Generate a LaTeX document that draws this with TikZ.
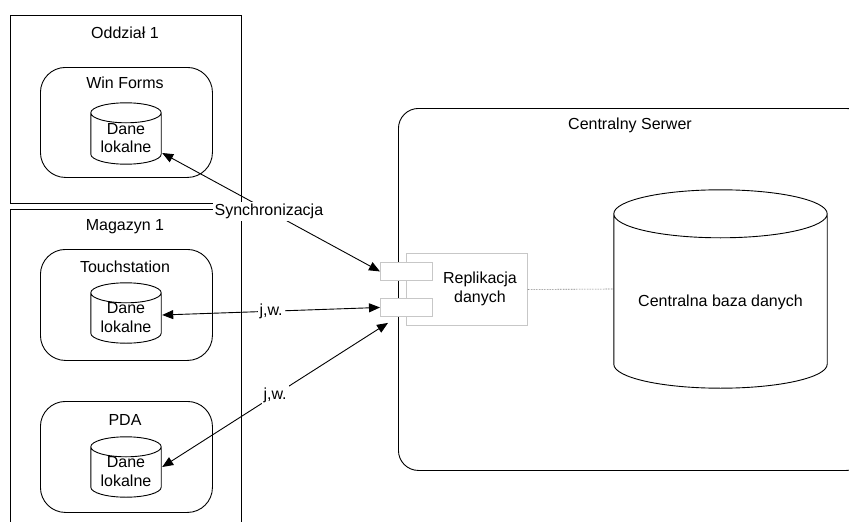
\documentclass[tikz,border=0pt]{standalone}
\usepackage{fontspec}
\setmainfont{Liberation Sans}
\usetikzlibrary{arrows.meta,calc}

% outline of a database cylinder filling the rectangle of node #1, ellipse half-height #2
\newcommand\dbshape[2]{%
  \draw[dbline] let \p1=(#1.north west), \p2=(#1.south east), \n1={(\x2-\x1)/2} in
    (\x1,\y1-#2pt) -- (\x1,\y2+#2pt)
    arc[start angle=180, end angle=360, x radius=\n1, y radius=#2pt]
    -- (\x2,\y1-#2pt)
    arc[start angle=0, end angle=180, x radius=\n1, y radius=#2pt]
    arc[start angle=180, end angle=360, x radius=\n1, y radius=#2pt];%
}

\begin{document}
\begin{tikzpicture}[x=1pt,y=1pt,
  every node/.style={font=\fontsize{16}{18.4}\selectfont, inner sep=0pt},
  frame/.style={draw, line width=0.9pt, anchor=north west},
  device/.style={draw, line width=0.9pt, rounded corners=25pt, anchor=north west},
  server/.style={draw, line width=0.9pt, rounded corners=20pt, anchor=north west},
  dbline/.style={line width=0.9pt},
  dbbox/.style={draw=none},
  txt/.style={align=center},
  component/.style={draw=black!22, line width=0.9pt, fill=white, anchor=north west},
  port/.style={draw=black!22, line width=0.9pt, fill=white, anchor=north west,
    minimum width=52pt, minimum height=18pt},
  conn/.style={{Triangle[length=11pt,width=9pt]}-{Triangle[length=11pt,width=9pt]}, line width=0.9pt},
  conlabel/.style={fill=white, inner sep=2pt},
  link/.style={draw=black!75, line width=0.6pt, densely dotted}
]
\useasboundingbox (0,0) rectangle (849,-522);
\clip (0,0) rectangle (849,-522);

% branch office
\node[frame, minimum width=231pt, minimum height=188pt] (oddzial) at (10,-15) {};
\node[txt] (oddzialtxt) at (125,-33) {Oddział 1};
\node[device, minimum width=172pt, minimum height=110pt] (winforms) at (40,-67) {};
\node[txt] (winformstxt) at (125,-83) {Win Forms};
\node[dbbox, minimum width=70pt, minimum height=61pt] (wfdb) at (126,-133.5) {};
\dbshape{wfdb}{10}
\node[txt] (wfdbtxt) at (126,-138) {Dane\\lokalne};

% warehouse
\node[frame, minimum width=231pt, minimum height=340pt] (magazyn) at (10,-209) {};
\node[txt] (magazyntxt) at (125,-227) {Magazyn 1};
\node[device, minimum width=172pt, minimum height=111pt] (touch) at (40,-249) {};
\node[txt] (touchtxt) at (125,-267) {Touchstation};
\node[dbbox, minimum width=70pt, minimum height=60pt] (tsdb) at (126,-313) {};
\dbshape{tsdb}{10}
\node[txt] (tsdbtxt) at (126,-317.5) {Dane\\lokalne};
\node[device, minimum width=172pt, minimum height=111pt] (pda) at (40,-401) {};
\node[txt] (pdatxt) at (125,-420) {PDA};
\node[dbbox, minimum width=70pt, minimum height=60pt] (pdadb) at (126,-467) {};
\dbshape{pdadb}{10}
\node[txt] (pdadbtxt) at (126,-471.5) {Dane\\lokalne};

% central server
\node[server, minimum width=468pt, minimum height=362pt] (serwer) at (398,-108) {};
\node[txt] (serwertxt) at (630,-125) {Centralny Serwer};
\node[dbbox, minimum width=213pt, minimum height=198pt] (cdb) at (720.5,-289) {};
\dbshape{cdb}{24}
\node[txt] (cdbtxt) at (720.5,-302) {Centralna baza danych};

\node[component, minimum width=121pt, minimum height=72pt] (repl) at (406,-253) {};
\node[txt] (repltxt) at (480,-289) {Replikacja\\danych};
\node[port] (port1) at (380,-262) {};
\node[port] (port2) at (380,-298) {};

\draw[link] (repl.east) -- (cdb.west);

% synchronisation links
\draw[conn] ([yshift=-19.5pt,xshift=1pt]wfdb.east) -- (port1.west)
  node[conlabel, pos=0.49] (synclbl) {Synchronizacja};
\draw[conn] ([yshift=-2pt,xshift=1pt]tsdb.east) -- (port2.west)
  node[conlabel, pos=0.5] (tslbl) {j,w.};
\draw[conn] ([xshift=1pt]pdadb.east) -- ([xshift=8pt,yshift=-6pt]port2.south west)
  node[conlabel, pos=0.5] (pdalbl) {j,w.};
\end{tikzpicture}
\end{document}
